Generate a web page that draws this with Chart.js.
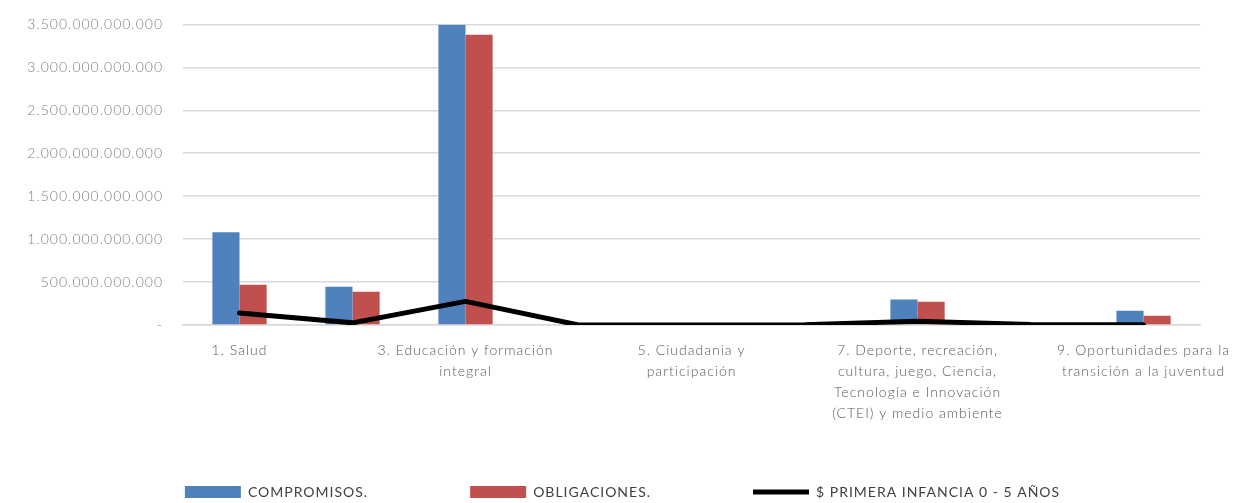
<!DOCTYPE html>
<html>
<head>
<meta charset="utf-8">
<script src="https://cdn.jsdelivr.net/npm/chart.js@4"></script>
<style>
  html, body { margin: 0; padding: 0; background: #fff; }
  #wrap { width: 1245px; height: 503px; }
</style>
</head>
<body>
<div id="wrap"><canvas id="grafico"></canvas></div>
<script>
// categorias (solo las impares se ven en el eje)
var categorias = ['1', '2', '3', '4', '5', '6', '7', '8', '9'];
var etiquetas = [
    ['1. Salud'],
    '',
    ['3. Educación y formación', 'integral'],
    '',
    ['5. Ciudadania y', 'participación'],
    '',
    ['7. Deporte, recreación,', 'cultura, juego, Ciencia,', 'Tecnología e Innovación', '(CTEI) y medio ambiente'],
    '',
    ['9. Oportunidades para la', 'transición a la juventud']
];

var compromisos = [1080e9, 445e9, 3495e9, 0, 0, 0, 296e9, 0, 167e9];
var obligaciones = [470e9, 386e9, 3380e9, 0, 0, 0, 270e9, 0, 109e9];
var primeraInfancia = [140e9, 25e9, 275e9, 0, 0, 3e9, 45e9, 5e9, 3e9];

var ticksY = [0, 500e9, 1000e9, 1500e9, 2000e9, 2500e9, 3000e9, 3500e9];

function puntos(v) {
    if (v === 0) return '-';
    return String(v).replace(/\B(?=(\d{3})+(?!\d))/g, '.');
}

// texto algo espaciado, como en el original
var espaciado = {
    id: 'espaciado',
    beforeUpdate: function (chart) { chart.ctx.letterSpacing = '1px'; },
    beforeDraw: function (chart) { chart.ctx.letterSpacing = '1px'; }
};

var config = {
    type: 'bar',
    data: {
        labels: categorias,
        datasets: [{
            label: 'COMPROMISOS.',
            data: compromisos,
            backgroundColor: '#4F81BD',
            borderWidth: 0,
            categoryPercentage: 0.48,
            barPercentage: 1,
            order: 1
        }, {
            label: 'OBLIGACIONES.',
            data: obligaciones,
            backgroundColor: '#C0504D',
            borderWidth: 0,
            categoryPercentage: 0.48,
            barPercentage: 1,
            order: 1
        }, {
            type: 'line',
            label: '$ PRIMERA INFANCIA 0 - 5 AÑOS',
            data: primeraInfancia,
            borderColor: '#000',
            backgroundColor: '#000',
            borderWidth: 5,
            borderCapStyle: 'round',
            borderJoinStyle: 'round',
            pointRadius: 0,
            tension: 0,
            order: 0
        }]
    },
    options: {
        responsive: true,
        maintainAspectRatio: false,
        animation: false,
        layout: {
            padding: { top: 7, right: 0, left: 0, bottom: -6 }
        },
        scales: {
            x: {
                offset: true,
                grid: { display: false, drawTicks: false },
                border: { color: '#d9d9d9', width: 1.5 },
                ticks: {
                    autoSkip: false,
                    maxRotation: 0,
                    padding: 15,
                    color: '#595959',
                    font: { family: 'Lato', size: 14, weight: '300', lineHeight: 1.5 },
                    callback: function (v, i) { return etiquetas[i]; }
                }
            },
            y: {
                min: 0,
                max: 3500e9,
                afterBuildTicks: function (s) {
                    s.ticks = ticksY.map(function (v) { return { value: v }; });
                },
                grid: { color: '#d9d9d9', lineWidth: 1.5, tickLength: 4, tickColor: 'rgba(0,0,0,0)' },
                border: { display: false },
                ticks: {
                    padding: 16,
                    color: '#808080',
                    font: { family: 'Lato', size: 14, weight: '300' },
                    callback: function (v) { return puntos(v); }
                },
                afterFit: function (s) { s.width = 183; }
            }
        },
        plugins: {
            legend: {
                position: 'bottom',
                labels: {
                    usePointStyle: true,
                    pointStyleWidth: 56,
                    boxHeight: 12,
                    padding: 46,
                    color: '#404040',
                    font: { family: 'Lato', size: 14 },
                    sort: function (a, b) { return a.datasetIndex - b.datasetIndex; },
                    generateLabels: function (chart) {
                        var items = Chart.defaults.plugins.legend.labels.generateLabels(chart);
                        items.forEach(function (it) {
                            it.pointStyle = it.datasetIndex === 2 ? 'line' : 'rect';
                            if (it.datasetIndex < 2) it.text = it.text + '\u2002\u2002\u2002\u2002\u2002\u2002\u2002';
                        });
                        return items;
                    }
                }
            },
            tooltip: { enabled: false }
        }
    },
    plugins: [espaciado]
};

var ctx = document.getElementById('grafico').getContext('2d');
var chart = new Chart(ctx, config);
</script>
</body>
</html>
